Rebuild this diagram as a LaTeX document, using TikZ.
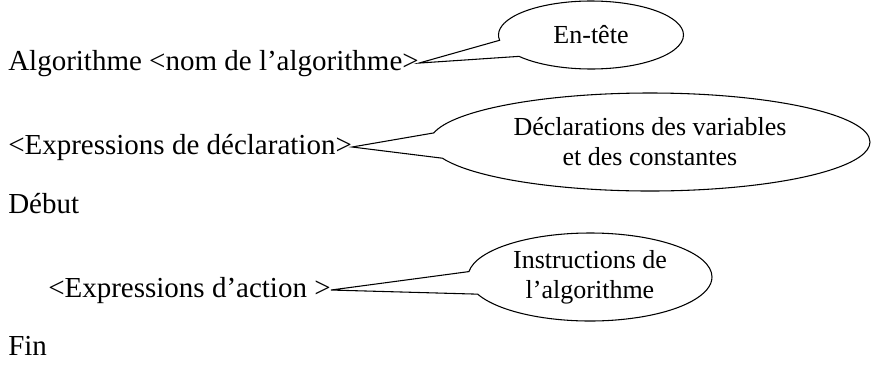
\documentclass[tikz,border=0pt]{standalone}
\usepackage{fontspec}
\setmainfont{Liberation Serif}
\usetikzlibrary{shapes.callouts}
\tikzset{
  zeile/.style={anchor=base west,inner sep=0pt,font=\fontsize{21.75}{26}\selectfont},
  bulle/.style={ellipse callout,draw,thick,inner sep=0pt,align=center,
    callout pointer arc=30,font=\fontsize{19.5}{22.5}\selectfont}
}
\begin{document}
\begin{tikzpicture}[x=0.75pt,y=-0.75pt]
\useasboundingbox (0,0) rectangle (875,368);
% Textzeilen
\node[zeile] (kopf) at (8,70) {Algorithme <nom de l’algorithme>};
\node[zeile] (dekl) at (8,154) {<Expressions de déclaration>};
\node[zeile] (debut) at (8,213) {Début};
\node[zeile] (aktion) at (48,297) {<Expressions d’action >};
\node[zeile] (fin) at (8,355) {Fin};
% Sprechblasen
\node[bulle,minimum width=185*0.75pt,minimum height=68*0.75pt,
  callout absolute pointer={(kopf.east)}] (entete) at (591,35) {En-tête};
\node[bulle,minimum width=440*0.75pt,minimum height=98*0.75pt,
  callout absolute pointer={(dekl.east)}] (decl) at (650,142)
  {Déclarations des variables\\ et des constantes};
\node[bulle,minimum width=244*0.75pt,minimum height=88*0.75pt,
  callout absolute pointer={(aktion.east)}] (instr) at (590,277)
  {Instructions de\\ l’algorithme};
\end{tikzpicture}
\end{document}
